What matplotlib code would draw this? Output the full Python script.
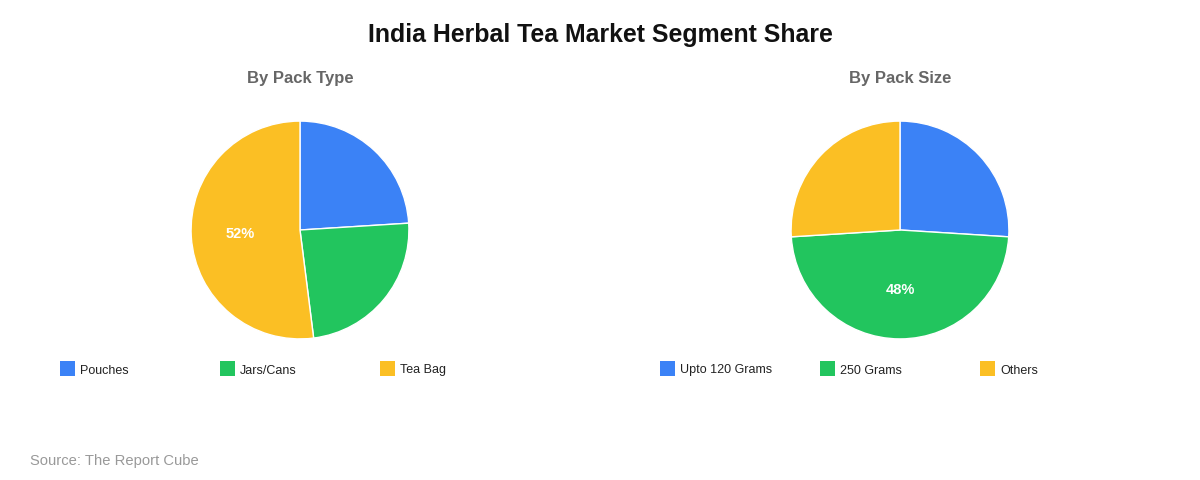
import matplotlib
matplotlib.use("Agg")
import matplotlib.pyplot as plt
from matplotlib.patches import Rectangle

plt.rcParams['font.family'] = ['Liberation Sans', 'DejaVu Sans']

title = "India Herbal Tea Market Segment Share"
source = "Source: The Report Cube"

pack_type_title = "By Pack Type"
pack_type_labels = ["Pouches", "Jars/Cans", "Tea Bag"]
pack_type_values = [24, 24, 52]

pack_size_title = "By Pack Size"
pack_size_labels = ["Upto 120 Grams", "250 Grams", "Others"]
pack_size_values = [26, 48, 26]

colors = ["#3B82F6", "#22C55E", "#FBBF24"]

W, H = 1200, 480
fig = plt.figure(figsize=(W / 100, H / 100), dpi=100)
fig.patch.set_facecolor("white")


def px(x, y):
    return x / W, 1 - y / H


fig.text(*px(600, 35), title, ha="center", va="center", fontsize=17.9,
         fontweight="bold", color="#111111")


def draw_pie(cx, labels, values, sub):
    r = 110
    cy = 230
    ax = fig.add_axes([(cx - r) / W, 1 - (cy + r) / H, 2 * r / W, 2 * r / H])
    ax.pie(values, colors=colors, startangle=90, counterclock=False, radius=1,
           wedgeprops=dict(edgecolor="white", linewidth=1),
           autopct=lambda p: f"{p:.0f}%" if p > 30 else "", pctdistance=0.55,
           textprops=dict(color="white", fontsize=10.5, fontweight="bold"))
    ax.set_xlim(-1.01, 1.01)
    ax.set_ylim(-1.01, 1.01)
    ax.set_aspect("equal")
    ax.axis("off")
    fig.text(*px(cx, 79), sub, ha="center", va="center", fontsize=12,
             fontweight="bold", color="#666666")
    x0 = cx - 240
    for i, lab in enumerate(labels):
        lx = x0 + i * 160
        fig.patches.append(Rectangle(px(lx, 376), 15 / W, 15 / H,
                                     transform=fig.transFigure,
                                     facecolor=colors[i], edgecolor="none"))
        fig.text(*px(lx + 20, 373.5), lab, ha="left", va="baseline",
                 fontsize=9, color="#222222")


draw_pie(300, pack_type_labels, pack_type_values, pack_type_title)
draw_pie(900, pack_size_labels, pack_size_values, pack_size_title)

fig.text(*px(30, 465), source, ha="left", va="baseline", fontsize=10.6,
         color="#999999")

fig.savefig("out.png", dpi=100, facecolor="white")
